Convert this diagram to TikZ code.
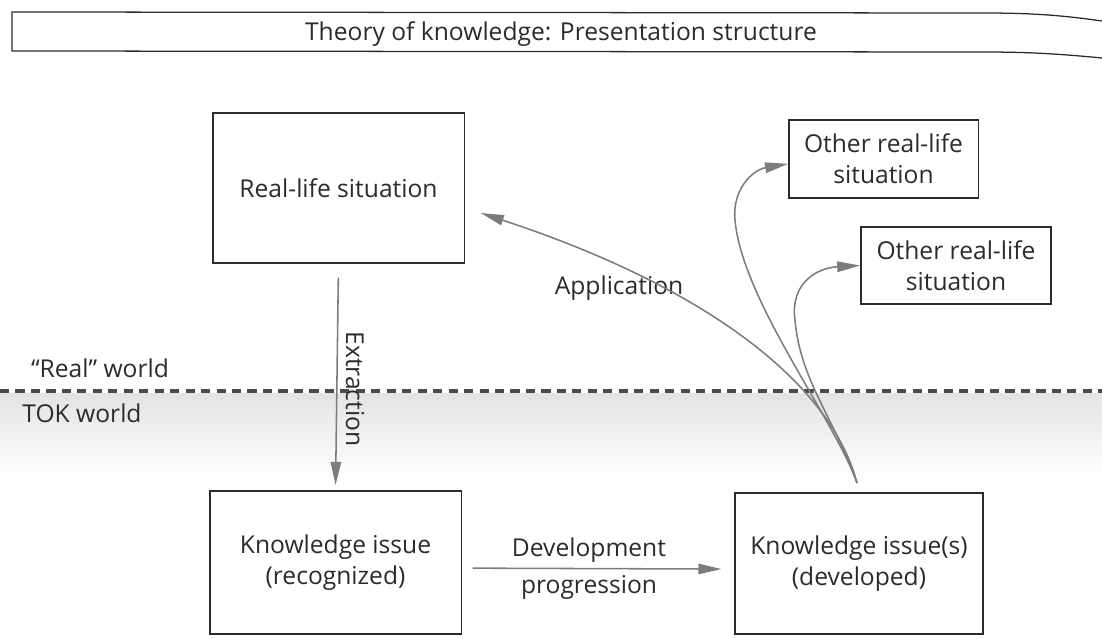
\documentclass[tikz,border=0pt]{standalone}
\usepackage{fontspec}
\setmainfont{Open Sans}
\usepackage{tikz}
\usetikzlibrary{arrows.meta}
\usepackage{xcolor}
\definecolor{ink}{HTML}{2B2B2B}
\definecolor{wire}{HTML}{7C7C7C}

\begin{document}
\begin{tikzpicture}[x=0.025cm,y=-0.025cm,>={Triangle[length=5.8mm,width=2.6mm]},
  every node/.style={font=\fontsize{17.5}{22}\selectfont,text=ink},
  box/.style={draw=ink,line width=0.9pt,align=center,inner sep=0pt},
  lbl/.style={inner sep=0pt}]
\useasboundingbox (0,0) rectangle (1102,638);
\shade[top color=gray!22,bottom color=white] (0,393) rectangle (1102,476);
\draw[ink,line width=0.9pt] (1102,21) .. controls (1060,15) and (1030,13) .. (983,13) -- (12,12) -- (12,51) -- (983,52) .. controls (1030,52) and (1060,54) .. (1102,58);
\node[lbl] (t) at (561,34) {Theory of knowledge: Presentation structure};
\node[box,minimum width=6.28cm,minimum height=3.75cm] (rl) at (338.5,188) {Real-life situation};
\node[box,minimum width=4.73cm,minimum height=1.95cm] (o1) at (883.5,159) {Other real-life\\situation};
\node[box,minimum width=4.75cm,minimum height=1.93cm] (o2) at (956,265.5) {Other real-life\\situation};
\node[box,minimum width=6.28cm,minimum height=3.58cm] (ki) at (335.5,562.5) {Knowledge issue\\(recognized)};
\node[box,minimum width=6.2cm,minimum height=3.53cm] (kd) at (859,563.5) {Knowledge issue(s)\\(developed)};
\node[lbl] (rw) at (100,368) {“Real” world};
\node[lbl] (tw) at (82,413) {TOK world};
\draw[ink!85,line width=2.8pt,dash pattern=on 6.5pt off 4.5pt] (0,391) -- (1102,391);
\node[lbl,rotate=-90] (ex) at (355,389) {Extraction};
\node[lbl] (ap) at (619,288) {Application};
\node[lbl] (dv) at (589,550) {Development};
\node[lbl] (pg) at (589,587) {progression};
\coordinate (root) at (857,483);
\draw[->,wire,line width=1.1pt,shorten <=0.35cm,shorten >=0.13cm] (rl.south) -- (ki.north);
\draw[->,wire,line width=1.1pt,shorten <=0.27cm,shorten >=0.32cm] ([yshift=-0.14cm]ki.east) -- ([yshift=-0.14cm]kd.west);
\draw[->,wire,line width=1.1pt] (root) .. controls (830,380) and (700,285) .. ([shift={(16,25)}]rl.east);
\draw[->,wire,line width=1.1pt] (root) .. controls (835,420) and (742,300) .. (735,220) .. controls (732,190) and (752,170) .. ([yshift=-0.12cm]o1.west);
\draw[->,wire,line width=1.1pt] (root) .. controls (835,420) and (800,380) .. (795,320) .. controls (790,285) and (815,268) .. (o2.west);
\end{tikzpicture}
\end{document}
